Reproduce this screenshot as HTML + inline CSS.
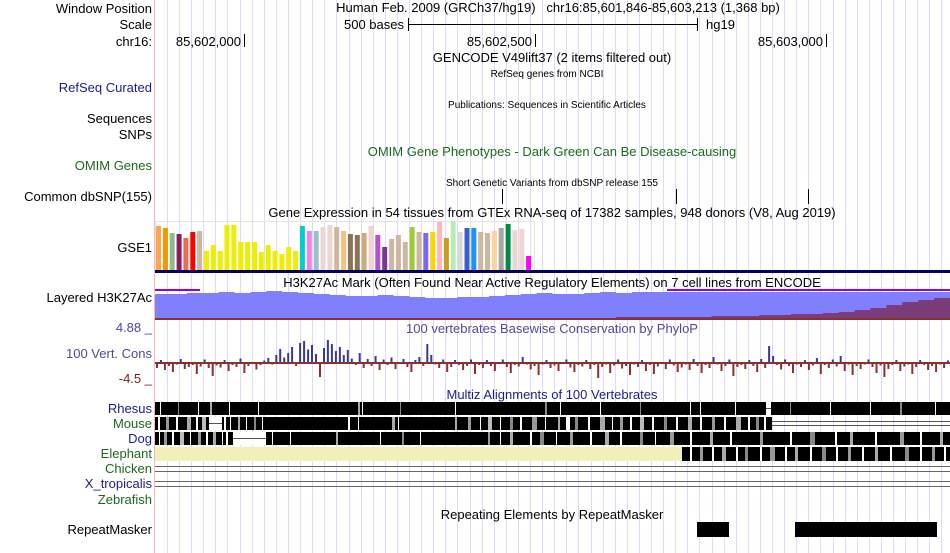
<!DOCTYPE html>
<html><head><meta charset="utf-8">
<style>
body{margin:0;background:#fff;width:950px;height:553px;overflow:hidden;font-family:"Liberation Sans",sans-serif;}
svg{display:block}
text{font-family:"Liberation Sans",sans-serif;font-size:13px}
.sm{font-size:10px}
</style></head>
<body>
<svg id="c" width="950" height="553">
<g id="grid"></g>
<line x1="154.5" y1="0" x2="154.5" y2="553" stroke="#f8b8b8"/>
<g id="labels" text-anchor="end">
<text x="152" y="13" fill="#000">Window Position</text>
<text x="152" y="29" fill="#000">Scale</text>
<text x="152" y="46" fill="#000">chr16:</text>
<text x="152" y="92" fill="#1c1c8c">RefSeq Curated</text>
<text x="152" y="123" fill="#000">Sequences</text>
<text x="152" y="139" fill="#000">SNPs</text>
<text x="152" y="170" fill="#1a6a1a">OMIM Genes</text>
<text x="152" y="201" fill="#000">Common dbSNP(155)</text>
<text x="152" y="252" fill="#000">GSE1</text>
<text x="152" y="302" fill="#000">Layered H3K27Ac</text>
<text x="152" y="332" fill="#4b4b9b">4.88 _</text>
<text x="152" y="358" fill="#4b4b9b">100 Vert. Cons</text>
<text x="152" y="383" fill="#7a2020">-4.5 _</text>
<text x="152" y="413" fill="#1c1c8c">Rhesus</text>
<text x="152" y="428" fill="#1a6a1a">Mouse</text>
<text x="152" y="443" fill="#1c1c8c">Dog</text>
<text x="152" y="458" fill="#1a6a1a">Elephant</text>
<text x="152" y="473" fill="#1a6a1a">Chicken</text>
<text x="152" y="488" fill="#1c1c8c">X_tropicalis</text>
<text x="152" y="504" fill="#1a6a1a">Zebrafish</text>
<text x="152" y="534" fill="#000">RepeatMasker</text>
</g>
<g text-anchor="middle">
<text x="558" y="12">Human Feb. 2009 (GRCh37/hg19)&#160;&#160;&#160;chr16:85,601,846-85,603,213 (1,368 bp)</text>
<text x="552" y="62">GENCODE V49lift37 (2 items filtered out)</text>
<text x="547" y="77" class="sm">RefSeq genes from NCBI</text>
<text x="547" y="108" class="sm">Publications: Sequences in Scientific Articles</text>
<text x="552" y="156" fill="#1a6a1a">OMIM Gene Phenotypes - Dark Green Can Be Disease-causing</text>
<text x="552" y="186" class="sm">Short Genetic Variants from dbSNP release 155</text>
<text x="552" y="217">Gene Expression in 54 tissues from GTEx RNA-seq of 17382 samples, 948 donors (V8, Aug 2019)</text>
<text x="552" y="287">H3K27Ac Mark (Often Found Near Active Regulatory Elements) on 7 cell lines from ENCODE</text>
<text x="552" y="333" fill="#4b4b9b">100 vertebrates Basewise Conservation by PhyloP</text>
<text x="552" y="399" fill="#1c1c8c">Multiz Alignments of 100 Vertebrates</text>
<text x="552" y="519">Repeating Elements by RepeatMasker</text>
</g>
<g>
<text x="404" y="29" text-anchor="end">500 bases</text>
<line x1="408" y1="24.5" x2="697" y2="24.5" stroke="#000"/>
<line x1="408.5" y1="18" x2="408.5" y2="31" stroke="#000"/>
<line x1="697.5" y1="18" x2="697.5" y2="31" stroke="#000"/>
<text x="706" y="29">hg19</text>
</g>
<g id="ruler"></g>
<g id="snps"></g>
<g id="gtex"></g>
<rect x="155" y="270" width="795" height="3" fill="#000066"/>
<g id="h3k"></g>
<g id="cons"></g>
<g id="multiz"></g>
<g id="rmsk"></g>
</svg>
<script>
const NS="http://www.w3.org/2000/svg";
function mk(p,tag,a){const e=document.createElementNS(NS,tag);for(const k in a)e.setAttribute(k,a[k]);p.appendChild(e);return e;}
// data
const rulerLabels=["85,602,000","85,602,500","85,603,000"];
const rulerPos=[85602000,85602500,85603000];
const snpPos=[85602443,85602743,85602970];
const gtexValues=[44,42,37,36,32,38,39,19,25,19,45,45,28,28,28,18,25,19,16,23,19,44,39,39,43,45,43,39,36,35,37,44,35,23,31,35,28,43,38,37,38,48,32,49,38,42,42,38,37,39,42,46,40,41,14];
const gtexColors=["#FFA54F","#EE9A00","#8FBC8F","#8B1C62","#EE6A50","#FF0000","#CDB79E","#EEEE00","#EEEE00","#EEEE00","#EEEE00","#EEEE00","#EEEE00","#EEEE00","#EEEE00","#EEEE00","#EEEE00","#EEEE00","#EEEE00","#EEEE00","#EEEE00","#00CDCD","#EE82EE","#9AC0CD","#EED5D2","#EED5D2","#CDB79E","#F4C17E","#8B7355","#8B7355","#CDAA7D","#EED5D2","#B452CD","#7A378B","#CDB79E","#CDB79E","#CDB79E","#9ACD32","#CDB79E","#7B68EE","#FFD700","#FFB6C1","#CD9B1D","#B4EEB4","#D9D9D9","#3A5FCD","#1E90FF","#CDB79E","#CDB79E","#FFD39B","#A6A6A6","#008B45","#EED5D2","#EED5D2","#FF00FF"];
const h3kTop=[294,294,293,293,292,293,292,291,292,293,294,295,296,296,295,296,297,298,298,297,297,296,295,294,293,294,294,293,292,293,292,292,292,292,292,292,292,292,292,292,292,292,292,292,292,292,292,292,292,292];
const h3kDark=[318,318,318,318,318,318,318,318,318,318,318,318,318,318,318,318,318,318,318,318,318,318,318,318,318,318,318,318,318,317,317,317,317,317,317,316,316,316,315,315,314,314,313,312,310,308,305,302,300,298];
const consVals=[-1.2,0.4,-1.6,-0.8,-2.0,-0.5,0.6,-1.4,-1.0,-0.6,-2.4,-0.9,0.5,-1.2,-2.8,-0.7,-1.1,0.4,-1.8,-0.6,-1.0,0.7,-2.2,-0.8,-0.4,-1.5,-0.6,0.3,0.8,-0.5,1.4,2.6,0.9,1.8,3.0,-0.8,3.8,4.2,2.5,3.4,1.6,-3.0,2.8,4.4,3.6,2.2,3.0,1.4,2.4,0.7,-0.6,1.8,-1.2,0.6,-0.8,1.2,-1.6,0.5,-0.6,0.9,-1.4,-0.4,0.6,-1.0,-2.0,0.4,1.0,-0.8,3.6,1.4,-0.5,-1.2,0.5,-2.0,-1.0,0.4,-0.6,-1.6,-0.8,0.5,-2.4,-0.6,-1.2,0.4,-0.8,-1.8,-0.4,0.5,-1.0,-2.2,-0.6,-0.9,1.0,-0.5,-1.5,-0.8,-2.6,-0.5,0.4,-1.2,-0.7,-1.8,-0.4,0.5,-1.1,-2.0,-0.6,-0.9,0.4,-1.4,-0.6,-3.2,-1.0,-0.5,-2.2,-0.7,0.5,-1.3,-0.8,-2.6,-0.5,-1.0,0.4,-1.8,-0.6,-2.4,-0.9,-0.4,-1.4,0.5,-0.7,-2.0,-1.1,-0.5,-1.6,0.6,-0.8,-2.2,-0.6,-1.2,1.0,-0.5,-1.8,-0.8,0.5,-2.8,-1.0,-0.6,-1.4,0.4,-0.8,-2.0,0.6,-1.2,3.2,1.2,-0.6,-1.5,0.5,-0.8,-2.2,-0.5,-1.0,0.4,-1.6,-0.7,0.8,-2.4,-0.6,-1.2,0.5,-0.9,1.2,-1.8,-0.5,-2.6,-0.8,-1.4,-0.5,0.5,-1.0,-2.2,-0.7,-3.0,-1.4,-0.6,0.4,-1.8,-0.9,-0.5,-2.4,-1.0,0.4,-0.6,-1.6,-0.8,-2.0,-0.5,-1.2,0.3];
const rhesusGaps=[[160,1,"#fff"],[178,1,"#888"],[198,1,"#fff"],[210,2,"#aaa"],[229,1,"#fff"],[258,1,"#fff"],[358,2,"#aaa"],[362,1,"#fff"],[400,1,"#888"],[455,1,"#fff"],[545,2,"#888"],[560,1,"#fff"],[600,1,"#fff"],[640,1,"#888"],[690,1,"#fff"],[700,1,"#fff"],[735,1,"#fff"],[766,5,"#fff"],[790,1,"#888"],[830,1,"#fff"],[870,1,"#fff"],[900,2,"#888"],[935,1,"#fff"]];
const mouseGaps=[[158,2,"#fff"],[166,3,"#999"],[176,2,"#fff"],[187,4,"#aaa"],[196,2,"#fff"],[202,4,"#bbb"],[209,13,"#fff"],[224,2,"#fff"],[230,1,"#fff"],[238,2,"#aaa"],[246,1,"#fff"],[254,2,"#888"],[262,1,"#fff"],[348,2,"#fff"],[358,1,"#fff"],[392,3,"#aaa"],[398,1,"#fff"],[455,2,"#aaa"],[468,3,"#999"],[480,1,"#fff"],[488,4,"#bbb"],[500,1,"#fff"],[510,3,"#888"],[520,2,"#fff"],[532,5,"#999"],[545,1,"#fff"],[558,2,"#aaa"],[566,4,"#fff"],[575,3,"#888"],[588,2,"#fff"],[600,5,"#aaa"],[612,1,"#fff"],[620,3,"#999"],[630,2,"#fff"],[640,4,"#bbb"],[652,2,"#fff"],[664,3,"#888"],[676,2,"#fff"],[688,4,"#aaa"],[700,2,"#fff"],[712,3,"#999"],[724,2,"#fff"],[736,5,"#aaa"],[748,2,"#fff"],[756,3,"#888"],[764,2,"#fff"]];
const dogGaps=[[159,1,"#fff"],[164,3,"#999"],[172,2,"#fff"],[180,4,"#bbb"],[190,1,"#fff"],[198,3,"#999"],[206,2,"#fff"],[213,3,"#aaa"],[222,1,"#fff"],[226,2,"#fff"],[233,33,"#fff"],[272,1,"#fff"],[290,1,"#fff"],[336,2,"#aaa"],[380,1,"#fff"],[402,2,"#888"],[420,1,"#fff"],[488,2,"#999"],[500,1,"#fff"],[510,3,"#aaa"],[530,2,"#fff"],[540,4,"#888"],[556,1,"#fff"],[570,3,"#999"],[590,2,"#fff"],[605,4,"#aaa"],[620,2,"#fff"],[640,3,"#888"],[655,1,"#fff"],[670,4,"#999"],[690,2,"#fff"],[710,3,"#aaa"],[730,2,"#fff"],[760,3,"#999"],[790,2,"#fff"],[810,5,"#888"],[835,2,"#fff"],[850,3,"#aaa"],[875,2,"#fff"],[900,4,"#999"],[920,2,"#fff"],[940,3,"#aaa"]];
const elephantGaps=[[690,2,"#fff"],[700,3,"#999"],[712,2,"#fff"],[722,4,"#aaa"],[736,2,"#fff"],[745,3,"#888"],[760,2,"#fff"],[770,5,"#999"],[785,2,"#fff"],[795,3,"#aaa"],[810,2,"#fff"],[822,4,"#888"],[836,2,"#fff"],[848,3,"#999"],[862,2,"#fff"],[875,3,"#aaa"],[890,2,"#fff"],[905,4,"#888"],[920,2,"#fff"],[932,3,"#999"],[944,2,"#fff"]];
const rmskBlocks=[[85602779,85602834],[85602948,85603192]];

const x0=155,x1=950,gStart=85601846,gEnd=85603213;
const xs=p=>x0+(p-gStart)/(gEnd-gStart+1)*(x1-x0);

const grid=document.getElementById('grid');
for(let x=167;x<950;x+=12.1){const l=mk(grid,'line',{x1:Math.round(x)+.5,y1:0,x2:Math.round(x)+.5,y2:553,stroke:'#dcdcf4'});

}

const ruler=document.getElementById('ruler');
rulerPos.forEach((p,i)=>{const x=Math.round(xs(p));
const t=mk(ruler,'text',{x:x-3,y:46,'text-anchor':'end'});t.textContent=rulerLabels[i];


mk(ruler,'line',{x1:x+.5,y1:34,x2:x+.5,y2:47,stroke:'#000'});});

const snps=document.getElementById('snps');
snpPos.forEach(p=>{const x=Math.round(xs(p));const l=mk(snps,'line',{x1:x+.5,y1:189,x2:x+.5,y2:204,stroke:'#000'});

});

const gtex=document.getElementById('gtex');
mk(gtex,'rect',{x:155.5,y:221.5,width:379,height:49,fill:'none',stroke:'#e4e4e4'});
const pitch=377/gtexValues.length;
gtexValues.forEach((v,i)=>{const r=mk(gtex,'rect',{x:(156+i*pitch).toFixed(1),y:270-v,width:5,height:v,fill:gtexColors[i]});

});

const h3k=document.getElementById('h3k');
const step=795/h3kTop.length;
let d='M155,320';h3kTop.forEach((y,i)=>{d+=` L${(155+i*step).toFixed(1)},${y} L${(155+(i+1)*step).toFixed(1)},${y}`;});d+=' L950,320 Z';
const a1=mk(h3k,'path',{d,fill:'#8080ff'});
let d2='M155,320';h3kDark.forEach((y,i)=>{d2+=` L${(155+i*step).toFixed(1)},${y} L${(155+(i+1)*step).toFixed(1)},${y}`;});d2+=' L950,320 Z';
const a2=mk(h3k,'path',{d:d2,fill:'#7a3d7a'});
mk(h3k,'rect',{x:155,y:318,width:795,height:2,fill:'#8a3030'});
mk(h3k,'rect',{x:155,y:289,width:45,height:2,fill:'#8800ff'});
mk(h3k,'rect',{x:667,y:289,width:283,height:2,fill:'#8800ff'});

const cons=document.getElementById('cons');
const base=362,sc=5,cp=795/consVals.length;
consVals.forEach((v,i)=>{const h=Math.min(Math.abs(v)*sc,22);const x=(156+i*cp).toFixed(1);
const r=mk(cons,'rect',{x,y:v>0?base-h:base,width:2,height:Math.max(h,1),fill:v>0?'#3a3a96':'#8b3030'});

});
mk(cons,'rect',{x:155,y:base,width:795,height:2,fill:'#8b3030'});

const mz=document.getElementById('multiz');
function row(y,h,segs,gaps,name){
 segs.forEach(s=>{const r=mk(mz,'rect',{x:s[0],y,width:s[1]-s[0],height:h,fill:s[2]});
 
 });
 gaps.forEach(g=>mk(mz,'rect',{x:g[0],y,width:g[1],height:h,fill:g[2]}));}
row(402,13,[[155,950,'#000']],rhesusGaps,'rhesus');
mk(mz,'line',{x1:766,y1:408.5,x2:771,y2:408.5,stroke:'#555'});
row(417,13,[[155,772,'#000']],mouseGaps,'mouse');
mk(mz,'line',{x1:209,y1:423.5,x2:222,y2:423.5,stroke:'#555'});
mk(mz,'line',{x1:772,y1:421.5,x2:950,y2:421.5,stroke:'#555'});
mk(mz,'line',{x1:772,y1:425.5,x2:950,y2:425.5,stroke:'#555'});
row(432,13,[[155,950,'#000']],dogGaps,'dog');
mk(mz,'line',{x1:233,y1:438.5,x2:266,y2:438.5,stroke:'#555'});
row(447,14,[[155,682,'#f0f0b8'],[682,950,'#000']],elephantGaps,'elephant');
[466,471,481,486].forEach(y=>{const l=mk(mz,'line',{x1:155,y1:y+.5,x2:950,y2:y+.5,stroke:'#666'});

});

const rm=document.getElementById('rmsk');
rmskBlocks.forEach(b=>{const r=mk(rm,'rect',{x:Math.round(xs(b[0])),y:522,width:Math.round(xs(b[1])-xs(b[0])),height:15,fill:'#000'});

});
</script>
</body></html>
